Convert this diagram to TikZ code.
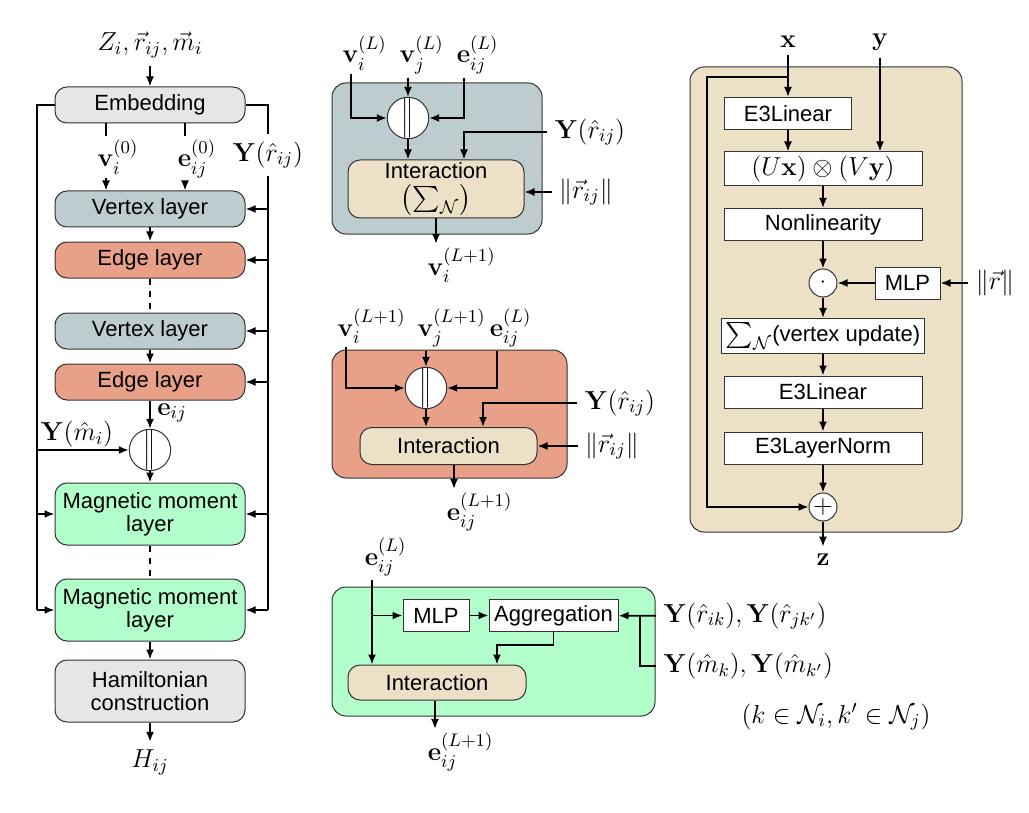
\RequirePackage{fix-cm}
\documentclass[tikz,border=0pt]{standalone}
\usepackage[no-math]{fontspec}
\setmainfont{Liberation Sans}
\usepackage{amsmath}
\usepackage{amssymb}
\usepackage{mathtools}
\usetikzlibrary{arrows.meta}
\definecolor{embgray}{RGB}{230,230,230}
\definecolor{vtxblue}{RGB}{189,204,207}
\definecolor{edgered}{RGB}{232,160,136}
\definecolor{mmgreen}{RGB}{178,255,204}
\definecolor{intbeige}{RGB}{236,224,199}
\newcommand{\lbl}[3]{\mathbf{#1}_{\mathrlap{#2}}^{\mathrlap{#3}}}
\newcommand{\bigmath}{\fontsize{13}{15}\selectfont}
\tikzset{
  layer/.style={draw=black!80, line width=0.5pt, rounded corners=6pt, minimum width=95pt, minimum height=18pt, align=center, inner sep=1pt},
  tall/.style={minimum height=31pt},
  panel/.style={draw=black!80, line width=0.5pt, rounded corners=7pt},
  block/.style={draw=black!80, line width=0.5pt, fill=white, minimum height=16pt, inner sep=2pt},
  wide/.style={minimum width=99pt},
  merge/.style={draw=black!80, line width=0.5pt, fill=white, circle, minimum size=15pt, inner sep=0pt},
  mlabel/.style={font=\bigmath},
  tag/.style={mlabel, inner sep=1.5pt},
  arr/.style={-{Latex[length=5pt,width=4pt]}},
}
\begin{document}
\begin{tikzpicture}[x=0.5pt, y=-0.5pt, line width=0.9pt, font=\fontsize{11}{11.5}\selectfont]
  \useasboundingbox (0,0) rectangle (1029,813);
  % overall network
  \node[mlabel] (in) at (150,45) {$Z_i,\vec{r}_{ij},\vec{m}_i$};
  \node[layer, fill=embgray] (emb) at (150,105) {Embedding};
  \node[layer, fill=vtxblue] (v1) at (150,209) {Vertex layer};
  \node[layer, fill=edgered] (e1) at (150,260) {Edge layer};
  \node[layer, fill=vtxblue] (v2) at (150,331) {Vertex layer};
  \node[layer, fill=edgered] (e2) at (150,382) {Edge layer};
  \node[merge, minimum size=16pt] (cat) at (150,450) {$\Big\|$};
  \node[layer, tall, fill=mmgreen] (mm1) at (150,514) {Magnetic moment\\layer};
  \node[layer, tall, fill=mmgreen] (mm2) at (150,610) {Magnetic moment\\layer};
  \node[layer, tall, fill=embgray] (ham) at (150,691) {Hamiltonian\\construction};
  \node[mlabel] (out) at (150,762) {$H_{ij}$};
  \node[tag, anchor=base] (v0) at (106,167) {$\lbl{v}{i}{(0)}$};
  \node[tag, anchor=base] (e0) at (185,167) {$\lbl{e}{ij}{(0)}$};
  \node[mlabel] (yr) at (268,155) {$\mathbf{Y}(\hat{r}_{ij})$};
  \node[mlabel] (ym) at (77,434) {$\mathbf{Y}(\hat{m}_i)$};
  \node[mlabel] (eij) at (172,413) {$\mathbf{e}_{ij}$};
  \coordinate (lt) at (37,105);
  \draw[arr] (in) -- (emb);
  \draw (emb.south -| v0) -- (v0);
  \draw[arr] (v0) -- (v0 |- v1.north);
  \draw (emb.south -| e0) -- (e0);
  \draw[arr] (e0) -- (e0 |- v1.north);
  \draw[arr] (v1) -- (e1);
  \draw[dashed] (e1) -- (v2);
  \draw[arr] (v2) -- (e2);
  \draw[arr] (e2) -- (cat);
  \draw[arr] (cat) -- (mm1);
  \draw[dashed] (mm1) -- (mm2);
  \draw[arr] (mm2) -- (ham);
  \draw[arr] (ham) -- (out);
  \draw (emb.east) -| (yr);
  \draw (yr) -- (yr |- mm2.east);
  \foreach \n in {v1,e1,v2,e2,mm1,mm2}
    \draw[arr] (yr |- \n.east) -- (\n.east);
  \draw (emb.west) -- (lt) -- (lt |- mm2.west);
  \foreach \n in {cat,mm1,mm2}
    \draw[arr] (lt |- \n.west) -- (\n.west);

  % vertex layer
  \node[panel, fill=vtxblue, minimum width=105pt, minimum height=75.5pt] (pv) at (437,158.5) {};
  \node[tag, anchor=base] (vi) at (351,63) {$\lbl{v}{i}{(L)}$};
  \node[tag, anchor=base] (vj) at (408,63) {$\lbl{v}{j}{(L)}$};
  \node[tag, anchor=base] (ej) at (464,63) {$\lbl{e}{ij}{(L)}$};
  \node[merge] (cat1) at (408,118) {$\Big\|$};
  \node[layer, fill=intbeige, minimum width=88pt, minimum height=29pt] (int1) at (436,189) {Interaction\\[2.5pt]{\bigmath$\bigl(\sum_{\mathcal{N}}\bigr)$}};
  \node[mlabel] (yr1) at (590,132) {$\mathbf{Y}(\hat{r}_{ij})$};
  \node[mlabel] (nr1) at (586,192) {$\|\vec{r}_{ij}\|$};
  \node[tag, anchor=base] (vo) at (436,275) {$\lbl{v}{i}{(L+1)}$};
  \draw[arr] (vi) |- (cat1);
  \draw[arr] (vj) -- (cat1);
  \draw[arr] (ej) |- (cat1);
  \draw[arr] (cat1) -- (cat1 |- int1.north);
  \draw[arr] (yr1) -| (ej |- int1.north);
  \draw[arr] (nr1) -- (nr1 -| int1.east);
  \draw[arr] (int1.south) -- (int1.south |- vo.north);

  % edge layer
  \node[panel, fill=edgered, minimum width=117.5pt, minimum height=64pt] (pe) at (449.5,414) {};
  \node[tag, anchor=base] (vi2) at (346,336) {$\lbl{v}{i}{(L+1)}$};
  \node[tag, anchor=base] (vj2) at (426,336) {$\lbl{v}{j}{(L+1)}$};
  \node[tag, anchor=base] (ej2) at (497,336) {$\lbl{e}{ij}{(L)}$};
  \node[merge] (cat2) at (426,388) {$\Big\|$};
  \node[layer, fill=intbeige, minimum width=88.5pt, minimum height=18.5pt] (int2) at (448.5,446) {Interaction};
  \node[mlabel] (yr2) at (620,403) {$\mathbf{Y}(\hat{r}_{ij})$};
  \node[mlabel] (nr2) at (612,446) {$\|\vec{r}_{ij}\|$};
  \node[tag, anchor=base] (eo2) at (454,520) {$\lbl{e}{ij}{(L+1)}$};
  \coordinate (k2) at (483,403);
  \draw[arr] (vi2) |- (cat2);
  \draw[arr] (vj2) -- (cat2);
  \draw[arr] (ej2) |- (cat2);
  \draw[arr] (cat2) -- (cat2 |- int2.north);
  \draw[arr] (yr2) -- (k2) -- (k2 |- int2.north);
  \draw[arr] (nr2) -- (nr2 -| int2.east);
  \draw[arr] (int2.south -| eo2) -- (eo2);

  % magnetic moment layer
  \node[panel, fill=mmgreen, minimum width=161.5pt, minimum height=64.5pt] (pm) at (493.5,651.5) {};
  \node[tag, anchor=base] (el) at (372,565) {$\lbl{e}{ij}{(L)}$};
  \node[block, minimum width=33pt] (mlp) at (436,615.5) {MLP};
  \node[block, minimum width=64.5pt] (agg) at (553.5,615.5) {Aggregation};
  \node[layer, fill=intbeige, minimum width=89pt, minimum height=17.5pt] (int3) at (437,682.5) {Interaction};
  \node[mlabel, anchor=west] (yr3) at (656,616) {$\mathbf{Y}(\hat{r}_{ik}),\mathbf{Y}(\hat{r}_{jk'})$};
  \node[mlabel, anchor=west] (ym3) at (656,666) {$\mathbf{Y}(\hat{m}_k),\mathbf{Y}(\hat{m}_{k'})$};
  \node[mlabel] (kn) at (836,717) {$(k\in\mathcal{N}_i,k'\in\mathcal{N}_j)$};
  \node[tag, anchor=base] (eo3) at (435,760) {$\lbl{e}{ij}{(L+1)}$};
  \coordinate (k3) at (497,645);
  \coordinate (j3) at (640,616);
  \draw[arr] (el) -- (el |- int3.north);
  \draw[arr] (el |- mlp) -- (mlp);
  \draw[arr] (mlp) -- (agg);
  \draw[arr] (agg.south) |- (k3) -- (k3 |- int3.north);
  \draw[arr] (yr3) -- (agg);
  \draw (ym3) -| (j3);
  \draw[arr] (int3.south -| eo3) -- (eo3);

  % tensor product block
  \node[panel, fill=intbeige, minimum width=136pt, minimum height=232.5pt] (pr) at (826,299.5) {};
  \node[mlabel] (xin) at (788,42) {$\mathbf{x}$};
  \node[mlabel] (yin) at (880,42) {$\mathbf{y}$};
  \node[block, minimum width=63.5pt] (lin1) at (788,113.5) {E3Linear};
  \node[block, wide, mlabel] (tp) at (823,169) {$(U\mathbf{x})\otimes(V\mathbf{y})$};
  \node[block, wide] (nl) at (823,224.5) {Nonlinearity};
  \node[merge, minimum size=14pt] (dot) at (823,283) {$\cdot$};
  \node[block, minimum width=32.5pt] (mlp2) at (907.5,283) {MLP};
  \node[mlabel] (nr) at (995,283) {$\|\vec{r}\|$};
  \node[block, wide] (sum) at (823,336) {{\bigmath$\sum_{\mathcal{N}}$}(vertex update)};
  \node[block, wide] (lin2) at (823,392) {E3Linear};
  \node[block, wide] (ln) at (823,448) {E3LayerNorm};
  \node[merge, minimum size=14pt, mlabel] (plus) at (823,507) {$+$};
  \node[mlabel] (zout) at (823,560) {$\mathbf{z}$};
  \coordinate (sk) at (707,77);
  \draw[arr] (xin) -- (lin1);
  \draw[arr] (xin |- sk) -- (sk) -- (sk |- plus) -- (plus);
  \draw[arr] (lin1) -- (lin1 |- tp.north);
  \draw[arr] (yin) -- (yin |- tp.north);
  \foreach \a/\b in {tp/nl,nl/dot,mlp2/dot,nr/mlp2,dot/sum,sum/lin2,lin2/ln,ln/plus,plus/zout}
    \draw[arr] (\a) -- (\b);
\end{tikzpicture}
\end{document}
